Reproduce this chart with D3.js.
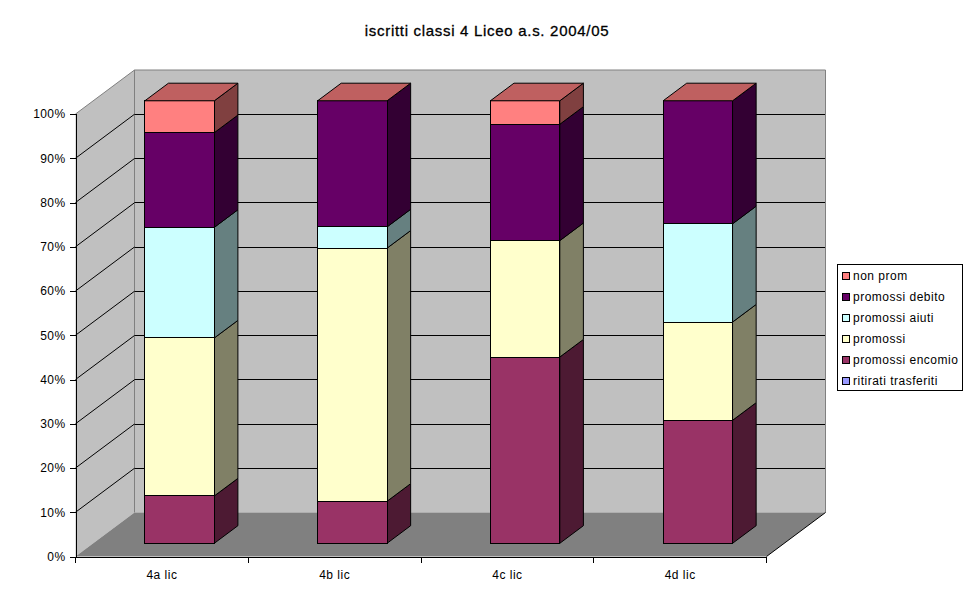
<!DOCTYPE html>
<html><head><meta charset="utf-8">
<script src="https://cdn.jsdelivr.net/npm/d3@7"></script>
<style>
html,body{margin:0;padding:0;background:#fff}
svg{display:block}
text{font-family:"Liberation Sans",Arial,sans-serif;fill:#000}
</style></head><body><div id="chart"></div>
<script>
const chartTitle = "iscritti classi 4 Liceo a.s. 2004/05";
const categories = ["4a lic","4b lic","4c lic","4d lic"];
const seriesNames = ["ritirati trasferiti","promossi encomio","promossi","promossi aiuti","promossi debito","non prom"];
const seriesColors = ["#9999FF","#993366","#FFFFCC","#CCFFFF","#660066","#FF8080"];
const ritiratiTrasferiti = [0,0,0,0];
const promossiEncomio = [10.7,9.5,42.1,27.8];
const promossi = [35.7,57.2,26.3,22.2];
const promossiAiuti = [25.0,4.8,0,22.2];
const promossiDebito = [21.4,28.5,26.3,27.8];
const nonProm = [7.2,0,5.3,0];
const seriesValues = [ritiratiTrasferiti,promossiEncomio,promossi,promossiAiuti,promossiDebito,nonProm];
const yTicks = [0,.1,.2,.3,.4,.5,.6,.7,.8,.9,1];

const W=972,H=602;
const svg=d3.select("#chart").append("svg").attr("width",W).attr("height",H);
const x0=75.5,x1=766.5,yB=556.5,yT=114,depthX=59,depthY=44;
const x=d3.scaleBand().domain(categories).range([x0,x1]).paddingInner(0).paddingOuter(0);
const y=d3.scaleLinear().domain([0,1]).range([yB,yT]);
const P=(px,v,d)=>[px+d*depthX,y(v)-d*depthY];
const poly=pts=>pts.map(p=>p.join(",")).join(" ");

// walls & floor
svg.append("polygon").attr("points",poly([P(x0,0,0),P(x0,1,0),P(x0,1,1),P(x0,0,1)])).attr("fill","#C0C0C0");
svg.append("polygon").attr("points",poly([P(x0,0,1),P(x0,1,1),P(x1,1,1),P(x1,0,1)])).attr("fill","#C0C0C0");
svg.append("polygon").attr("points",poly([P(x0,0,0),P(x0,0,1),P(x1,0,1),P(x1,0,0)])).attr("fill","#808080");
svg.append("polyline").attr("points",poly([P(x0,1,0),P(x0,1,1),P(x1,1,1),P(x1,0,1)])).attr("fill","none").attr("stroke","#808080").attr("stroke-width",1);
svg.append("line").attr("x1",P(x0,0,1)[0]).attr("y1",P(x0,0,1)[1]).attr("x2",P(x0,1,1)[0]).attr("y2",P(x0,1,1)[1]).attr("stroke","#808080");
// gridlines on side wall and back wall
yTicks.filter(v=>v>0&&v<1).forEach(v=>{
  const a=P(x0,v,0),b=P(x0,v,1),c=P(x1,v,1);
  svg.append("line").attr("x1",a[0]).attr("y1",a[1]).attr("x2",b[0]).attr("y2",b[1]).attr("stroke","#000");
  svg.append("line").attr("x1",b[0]).attr("y1",Math.floor(b[1])+.5).attr("x2",c[0]-.5).attr("y2",Math.floor(c[1])+.5).attr("stroke","#000");
});
svg.append("line").attr("x1",P(x1,0,0)[0]).attr("y1",P(x1,0,0)[1]).attr("x2",P(x1,0,1)[0]).attr("y2",P(x1,0,1)[1]).attr("stroke","#000");

// bars
const rows=categories.map((c,i)=>{const o={cat:c};seriesNames.forEach((s,j)=>o[s]=seriesValues[j][i]);return o;});
const stack=d3.stack().keys(seriesNames).offset(d3.stackOffsetExpand)(rows);
const barW=x.bandwidth()*0.402, d0=0.3,d1=0.7;
const shade=(col,k)=>{const c=d3.rgb(col);return d3.rgb(c.r*k,c.g*k,c.b*k).formatHex();};
categories.forEach((cat,ci)=>{
  const L=x(cat)+(x.bandwidth()-barW)/2, R=L+barW;
  const g=svg.append("g").attr("stroke","#000").attr("stroke-width",1).attr("stroke-linejoin","miter");
  stack.forEach((layer,si)=>{
    const [a,b]=layer[ci];
    if(b-a<=0) return;
    g.append("polygon").attr("points",poly([P(R,a,d0),P(R,b,d0),P(R,b,d1),P(R,a,d1)])).attr("fill",shade(seriesColors[si],.5));
    g.append("polygon").attr("points",poly([P(L,a,d0),P(L,b,d0),P(R,b,d0),P(R,a,d0)])).attr("fill",seriesColors[si]).attr("shape-rendering","crispEdges");
  });
  const topCol=seriesColors[seriesColors.length-1];
  g.append("polygon").attr("points",poly([P(L,1,d0),P(L,1,d1),P(R,1,d1),P(R,1,d0)])).attr("fill",shade(topCol,.75));
});

// axes
const yAxis=d3.axisLeft(y).tickValues(yTicks).tickFormat(d3.format(".0%")).tickSize(6).tickPadding(4);
const gy=svg.append("g").attr("transform",`translate(${x0},0)`).call(yAxis);
gy.selectAll("text").attr("font-size",12).attr("letter-spacing",.4).attr("font-family",'"Liberation Sans",Arial,sans-serif');
gy.selectAll("line,path").attr("stroke","#000").attr("shape-rendering","crispEdges");
const gx=svg.append("g").attr("transform",`translate(0,${yB})`).call(d3.axisBottom(x).tickSize(0).tickPadding(14));
gx.selectAll("text").attr("font-size",12).attr("letter-spacing",.5).attr("font-family",'"Liberation Sans",Arial,sans-serif');
gx.select("path").attr("stroke","#000").attr("d",`M${x0},0.5H${x1}`).attr("shape-rendering","crispEdges");
gx.selectAll(".bound").data(d3.range(categories.length+1)).enter().append("line").attr("class","bound")
  .attr("x1",i=>x0+i*x.bandwidth()).attr("x2",i=>x0+i*x.bandwidth()).attr("y1",0).attr("y2",6)
  .attr("stroke","#000").attr("shape-rendering","crispEdges");

// title
svg.append("text").attr("x",487).attr("y",36).attr("text-anchor","middle").attr("font-size",15).attr("letter-spacing",.7)
  .attr("stroke","#000").attr("stroke-width",.3).text(chartTitle);

// legend
const lg=svg.append("g");
lg.append("rect").attr("x",837.5).attr("y",264.5).attr("width",125).attr("height",126).attr("fill","#fff").attr("stroke","#000").attr("shape-rendering","crispEdges");
d3.range(seriesNames.length).reverse().forEach((si,k)=>{
  const cy=276+k*21;
  lg.append("rect").attr("x",842.5).attr("y",cy-3.5).attr("width",7).attr("height",7).attr("fill",seriesColors[si]).attr("stroke","#000").attr("shape-rendering","crispEdges");
  lg.append("text").attr("x",853).attr("y",cy+4).attr("font-size",12).attr("letter-spacing",.5).text(seriesNames[si]);
});
</script></body></html>
